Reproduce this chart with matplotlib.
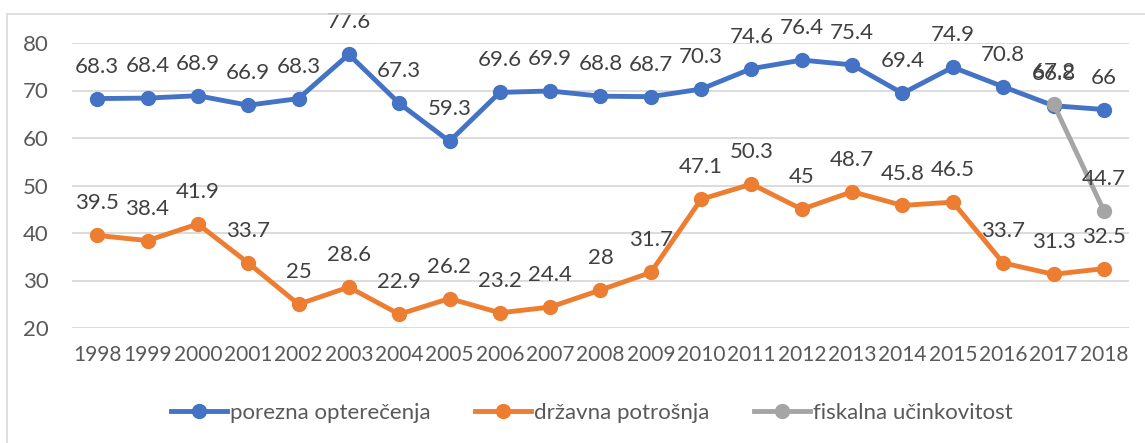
import numpy as np
import matplotlib.pyplot as plt
from matplotlib.patches import Rectangle

#%% Podaci
godine = [str(g) for g in range(1998, 2019)]
porezna = [68.3, 68.4, 68.9, 66.9, 68.3, 77.6, 67.3, 59.3, 69.6, 69.9, 68.8,
           68.7, 70.3, 74.6, 76.4, 75.4, 69.4, 74.9, 70.8, 66.8, 66]
drzavna = [39.5, 38.4, 41.9, 33.7, 25, 28.6, 22.9, 26.2, 23.2, 24.4, 28,
           31.7, 47.1, 50.3, 45, 48.7, 45.8, 46.5, 33.7, 31.3, 32.5]
fiskalna = [np.nan] * 19 + [67.2, 44.7]

serije = [('porezna opterečenja', porezna, '#4472C4'),
          ('državna potrošnja', drzavna, '#ED7D31'),
          ('fiskalna učinkovitost', fiskalna, '#A5A5A5')]

#%% Graf
plt.rcParams['font.family'] = ['Lato', 'DejaVu Sans']
W, H = 1145, 443
fs = 16
fig = plt.figure(figsize=(W / 100, H / 100), dpi=100)
ax = fig.add_axes([72 / W, 1 - 328 / H, (1129 - 72) / W, (328 - 43) / H])

fig.patches.append(Rectangle((7 / W, -0.1), 1.2, 1 - 14 / H + 0.1,
                             transform=fig.transFigure, fill=False,
                             edgecolor='#D9D9D9', lw=1.2, zorder=0))

xx = np.arange(len(godine))
for ime, vals, boja in serije:
    ax.plot(xx, vals, color=boja, lw=3.5, marker='o', markersize=10,
            label=ime, clip_on=False, zorder=3)
    for x, v in zip(xx, vals):
        if np.isnan(v):
            continue
        ax.annotate(f'{v:g}', (x, v), xytext=(0, 23), textcoords='offset points',
                    ha='center', va='center', fontsize=fs, color='#404040')

ax.set_xlim(-0.5, len(godine) - 0.5)
ax.set_ylim(20, 80)
ax.set_yticks(range(20, 81, 10))
ax.set_xticks(xx)
ax.set_xticklabels(godine)
ax.yaxis.grid(True, color='#D9D9D9', lw=1.3)
ax.set_axisbelow(True)
for s in ax.spines.values():
    s.set_visible(False)
ax.tick_params(axis='both', length=0, labelsize=fs, colors='#595959')
ax.tick_params(axis='x', pad=12, labelsize=15)
ax.tick_params(axis='y', pad=17)

leg = fig.legend(loc='center', bbox_to_anchor=(592 / W, 1 - 413 / H), ncol=3,
                 frameon=False, fontsize=fs, handlelength=2.5,
                 handletextpad=0.15, columnspacing=2.0)
for t in leg.get_texts():
    t.set_color('#595959')

fig.savefig('out.png', dpi=100)
